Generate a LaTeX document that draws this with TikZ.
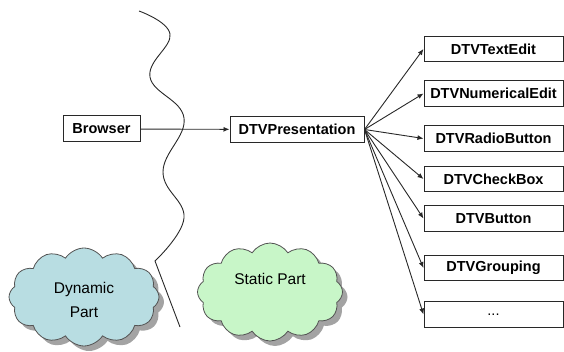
\documentclass[tikz,border=0pt]{standalone}
\usepackage{fontspec}
\setmainfont{Liberation Sans}
\usetikzlibrary{shapes.symbols,shadows,arrows.meta}
\definecolor{dyncol}{RGB}{184,221,226}
\definecolor{statcol}{RGB}{200,246,200}
\definecolor{linecol}{RGB}{40,40,40}
\begin{document}
\begin{tikzpicture}[x=1pt,y=-1pt,
  box/.style={draw=linecol,line width=1pt,fill=white,inner sep=0pt,
    font=\fontsize{14.5}{16}\selectfont\bfseries},
  rbox/.style={box,minimum width=139pt,minimum height=25.5pt},
  conn/.style={draw=linecol,line width=0.9pt,-{Latex[length=6pt,width=5pt]}},
  cloudy/.style={cloud,cloud puffs=12,cloud puff arc=115,cloud ignores aspect,
    draw=linecol!80,line width=0.8pt,align=center,
    font=\fontsize{15.5}{24}\selectfont,
    drop shadow={shadow xshift=5pt,shadow yshift=-5pt,fill=black!45,opacity=0.8}}]
\useasboundingbox (0,0) rectangle (564,352);
% wavy separator
\draw[linecol,line width=0.9pt] plot[smooth,tension=0.7] coordinates
  {(139,11) (170,34) (150,77) (184,118) (163,172) (184,218) (155,261)} -- (180,327);
% clouds
\node[cloudy,fill=dyncol,minimum width=150pt,minimum height=98pt] (dyn) at (84,297)
  {\raisebox{-7.5pt}[0pt][0pt]{\begin{tabular}{@{}c@{}}Dynamic\\Part\end{tabular}}};
\node[cloudy,fill=statcol,minimum width=145pt,minimum height=98pt] (stat) at (270,292)
  {\raisebox{8pt}[0pt][0pt]{Static Part}};
% boxes
\node[box,minimum width=77pt,minimum height=26pt] (browser) at (101.5,129) {Browser};
\node[box,minimum width=134pt,minimum height=25.5pt] (pres) at (297,129.5) {DTVPresentation};
\node[rbox] (t1) at (493.5,49) {DTVTextEdit};
\node[rbox] (t2) at (493.5,93.5) {DTVNumericalEdit};
\node[rbox] (t3) at (493.5,138.5) {DTVRadioButton};
\node[rbox] (t4) at (493.5,179) {DTVCheckBox};
\node[rbox] (t5) at (493.5,218.5) {DTVButton};
\node[rbox] (t6) at (493.5,268) {DTVGrouping};
\node[rbox,font=\fontsize{14.5}{16}\selectfont] (t7) at (493.5,314.5) {...};
% connectors
\draw[conn] (browser) -- (pres);
\foreach \t in {t1,t2,t3,t4,t5,t6,t7}
  \draw[conn] (pres.east) -- (\t.west);
\end{tikzpicture}
\end{document}
